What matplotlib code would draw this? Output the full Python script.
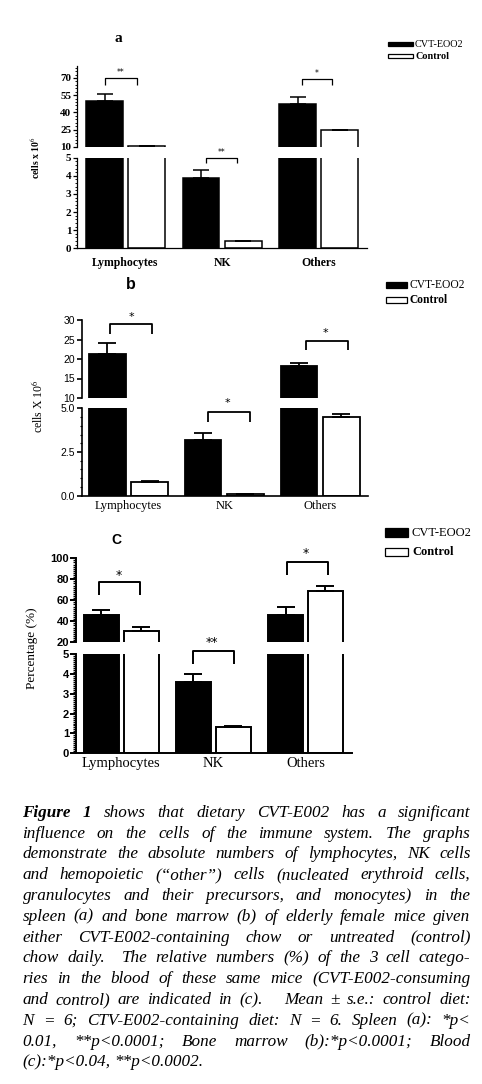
import re
import numpy as np
import matplotlib
matplotlib.use("Agg")
import matplotlib.pyplot as plt
from matplotlib.patches import Rectangle
from matplotlib.ticker import FixedLocator, AutoMinorLocator, MultipleLocator, NullLocator, FormatStrFormatter

# ---------------- data ----------------
categories = ["Lymphocytes", "NK", "Others"]
series_names = ["CVT-EOO2", "Control"]

# panel a: spleen (cells x 10^6)
a_cvt = [50.0, 3.9, 47.5]
a_cvt_err = [6.0, 0.4, 6.0]
a_ctl = [10.5, 0.4, 24.3]
a_ctl_err = [0.2, 0.02, 0.4]
a_sig = ["**", "**", "*"]

# panel b: bone marrow (cells x 10^6)
b_cvt = [21.2, 3.2, 18.1]
b_cvt_err = [3.0, 0.4, 0.8]
b_ctl = [0.8, 0.07, 4.5]
b_ctl_err = [0.03, 0.01, 0.2]
b_sig = ["*", "*", "*"]

# panel c: blood (percentage)
c_cvt = [46.0, 3.6, 46.0]
c_cvt_err = [5.0, 0.37, 8.0]
c_ctl = [31.0, 1.3, 69.0]
c_ctl_err = [3.8, 0.08, 5.0]
c_sig = ["*", "**", "*"]

a_upper_ticks = [10, 25, 40, 55, 70]
a_lower_ticks = [0, 1, 2, 3, 4, 5]
b_upper_ticks = [10, 15, 20, 25, 30]
b_lower_ticks = [0.0, 2.5, 5.0]
c_upper_ticks = [20, 40, 60, 80, 100]
c_lower_ticks = [0, 1, 2, 3, 4, 5]

caption_lines = [
    "Figure 1 shows that dietary CVT-E002 has a significant",
    "influence on the cells of the immune system. The graphs",
    "demonstrate the absolute numbers of lymphocytes, NK cells",
    "and hemopoietic (\u201cother\u201d) cells (nucleated erythroid cells,",
    "granulocytes and their precursors, and monocytes) in the",
    "spleen (a) and bone marrow (b) of elderly female mice given",
    "either CVT-E002-containing chow or untreated (control)",
    "chow daily.  The relative numbers (%) of the 3 cell catego-",
    "ries in the blood of these same mice (CVT-E002-consuming",
    "and control) are indicated in (c).   Mean \u00b1 s.e.: control diet:",
    "N = 6; CTV-E002-containing diet: N = 6. Spleen (a): *p<",
    "0.01,  **p<0.0001;  Bone  marrow  (b):*p<0.0001;  Blood",
    "(c):*p<0.04, **p<0.0002.",
]

# ---------------- figure ----------------
W, H = 482, 1084
plt.rcParams["mathtext.fontset"] = "stix"
fig = plt.figure(figsize=(W / 100, H / 100), dpi=100)
SERIF = "Liberation Serif"
SANS = ["Liberation Sans Narrow", "Liberation Sans"]


def ax_px(x0, y0, x1, y1):
    return fig.add_axes([x0 / W, 1 - y1 / H, (x1 - x0) / W, (y1 - y0) / H])


def draw_panel(cfg, cvt, cvt_err, ctl, ctl_err, sig, up_ticks, lo_ticks):
    x = np.arange(len(categories))
    off, width = cfg["off"], cfg["width"]
    up = ax_px(cfg["x0"], cfg["up"][0], cfg["x1"], cfg["up"][1])
    lo = ax_px(cfg["x0"], cfg["lo"][0], cfg["x1"], cfg["lo"][1])
    for ax, lim, ticks, minor in ((up, cfg["up_lim"], up_ticks, cfg["up_minor"]),
                                  (lo, cfg["lo_lim"], lo_ticks, cfg["lo_minor"])):
        ax.bar(x - off, cvt, width, color="black", edgecolor="black",
               linewidth=cfg["blw"], zorder=2)
        ax.bar(x + off, ctl, width, color="white", edgecolor="black",
               linewidth=cfg["blw"], zorder=2)
        ax.errorbar(x - off, cvt, yerr=[np.zeros(len(cvt)), cvt_err], fmt="none",
                    ecolor="black", elinewidth=cfg["elw"], capsize=cfg["cap"],
                    capthick=cfg["elw"], zorder=3)
        ax.errorbar(x + off, ctl, yerr=[np.zeros(len(ctl)), ctl_err], fmt="none",
                    ecolor="black", elinewidth=cfg["elw"], capsize=cfg["cap"],
                    capthick=cfg["elw"], zorder=3)
        ax.set_xlim(cfg["xlim"])
        ax.set_ylim(lim)
        ax.set_facecolor("none")
        for s in ("top", "right"):
            ax.spines[s].set_visible(False)
        ax.spines["left"].set_linewidth(cfg["slw"])
        ax.spines["bottom"].set_linewidth(cfg["slw"])
        ax.yaxis.set_major_locator(FixedLocator(ticks))
        if minor is None:
            ax.yaxis.set_minor_locator(NullLocator())
        else:
            ax.yaxis.set_minor_locator(minor)
        ax.tick_params(axis="y", which="major", direction="out", length=cfg["tl"],
                       width=cfg["slw"], pad=1)
        ax.tick_params(axis="y", which="minor", direction="out", length=cfg["tl"] * 0.5,
                       width=cfg["slw"] * 0.7)
    up.yaxis.set_major_formatter(cfg["upfmt"])
    lo.yaxis.set_major_formatter(cfg["lofmt"])
    for lab in up.get_yticklabels() + lo.get_yticklabels():
        lab.set_fontfamily(cfg["tfam"])
        lab.set_fontweight(cfg["tweight"])
        lab.set_fontsize(cfg["tsize"])
    up.spines["bottom"].set_visible(False)
    up.set_xticks([])
    lo.set_xticks(x)
    lo.set_xticklabels(categories, fontfamily=SERIF, fontweight=cfg["xweight"],
                       fontsize=cfg["xsize"])
    lo.tick_params(axis="x", length=0, pad=cfg["xpad"])

    # significance brackets
    for i, (axname, xa, xb, yb, yl, ys, xs) in enumerate(cfg["brackets"]):
        ax = up if axname == "up" else lo
        ax.plot([i + xa, i + xa, i + xb, i + xb], [yl, yb, yb, yl], color="black",
                lw=cfg["brlw"], clip_on=False, zorder=4, solid_capstyle="butt")
        ax.text(i + xs, ys, sig[i], ha="center", va="center", fontsize=cfg["ssize"],
                fontfamily="DejaVu Sans", clip_on=False)

    # titles, y-label, legend
    fig.text(cfg["title_xy"][0] / W, 1 - cfg["title_xy"][1] / H, cfg["title"],
             ha="center", va="center", fontsize=cfg["title_size"],
             fontweight="bold", fontfamily=cfg["title_fam"])
    fig.text(cfg["ylab_xy"][0] / W, 1 - cfg["ylab_xy"][1] / H, cfg["ylabel"],
             ha="center", va="center", rotation=90, fontsize=cfg["ylab_size"],
             fontweight=cfg["ylab_weight"], fontfamily=SERIF)
    lx0, lx1 = cfg["leg_x"]
    for (ly0, ly1), name, fc, wt in zip(cfg["leg_y"], series_names,
                                        ["black", "white"], cfg["leg_weights"]):
        fig.add_artist(Rectangle((lx0 / W, 1 - ly1 / H), (lx1 - lx0) / W,
                                 (ly1 - ly0) / H, transform=fig.transFigure,
                                 facecolor=fc, edgecolor="black", linewidth=0.9))
        fig.text(cfg["leg_tx"] / W, 1 - (ly0 + ly1) / 2 / H, name, ha="left",
                 va="center", fontsize=cfg["leg_size"], fontfamily=SERIF,
                 fontweight=wt)


cfg_a = dict(
    x0=77, x1=367, up=(66.5, 146.7), lo=(157.7, 248.3),
    up_lim=(10, 80), lo_lim=(0, 5), xlim=(-0.503, 2.502),
    off=0.218, width=0.383, blw=1.1, elw=1.1, cap=6.0, slw=0.9, tl=3.0,
    up_minor=AutoMinorLocator(5), lo_minor=AutoMinorLocator(5),
    tfam=SERIF, tweight="bold", tsize=8,
    upfmt=FormatStrFormatter("%d"), lofmt=FormatStrFormatter("%d"),
    xweight="bold", xsize=8.5, xpad=6,
    brackets=[("up", -0.212, 0.119, 70.2, 64.1, 75.0, -0.047),
              ("lo", -0.169, 0.155, 5.0, 4.69, 5.3, 0.0),
              ("up", -0.171, 0.14, 68.8, 63.8, 73.5, -0.02)],
    brlw=0.9, ssize=5.5,
    title="a", title_xy=(118.5, 38), title_size=11, title_fam=SERIF,
    ylabel="cells x 10$^6$", ylab_xy=(35, 158), ylab_size=7, ylab_weight="bold",
    leg_x=(388, 413), leg_y=[(42.3, 46.2), (54.3, 58.2)], leg_tx=415,
    leg_size=7.3, leg_weights=["normal", "bold"],
)

cfg_b = dict(
    x0=81.5, x1=368, up=(320, 398), lo=(408.3, 495.7),
    up_lim=(10, 30), lo_lim=(0, 5), xlim=(-0.489, 2.498),
    off=0.22, width=0.38, blw=1.3, elw=1.3, cap=6.5, slw=1.2, tl=3.5,
    up_minor=None, lo_minor=MultipleLocator(0.5),
    tfam=["Liberation Sans"], tweight="normal", tsize=7.5,
    upfmt=FormatStrFormatter("%d"), lofmt=FormatStrFormatter("%.1f"),
    xweight="normal", xsize=9, xpad=3,
    brackets=[("up", -0.192, 0.249, 28.9, 26.4, 30.7, 0.027),
              ("lo", -0.174, 0.267, 4.77, 4.23, 5.3, 0.03),
              ("up", -0.148, 0.287, 24.7, 22.3, 26.7, 0.05)],
    brlw=1.3, ssize=8,
    title="b", title_xy=(131, 285), title_size=11.5, title_fam="Liberation Sans",
    ylabel="cells X 10$^6$", ylab_xy=(38, 406), ylab_size=8.5, ylab_weight="normal",
    leg_x=(386, 407), leg_y=[(282.3, 288.3), (296.7, 302.7)], leg_tx=410,
    leg_size=8.3, leg_weights=["normal", "bold"],
)

cfg_c = dict(
    x0=76, x1=352, up=(558.3, 642.3), lo=(654, 753.3),
    up_lim=(20, 100), lo_lim=(0, 5), xlim=(-0.492, 2.505),
    off=0.217, width=0.38, blw=1.4, elw=1.4, cap=6.5, slw=1.4, tl=4.0,
    up_minor=AutoMinorLocator(10), lo_minor=AutoMinorLocator(10),
    tfam=SANS, tweight="bold", tsize=8,
    upfmt=FormatStrFormatter("%d"), lofmt=FormatStrFormatter("%d"),
    xweight="normal", xsize=10.5, xpad=3,
    brackets=[("up", -0.239, 0.203, 77.7, 65.0, 84.0, -0.03),
              ("lo", -0.226, 0.226, 5.15, 4.5, 5.6, -0.02),
              ("up", -0.204, 0.241, 96.8, 84.1, 105.0, 0.0)],
    brlw=1.4, ssize=9,
    title="C", title_xy=(116.7, 540.5), title_size=10, title_fam="Liberation Sans",
    ylabel="Percentage (%)", ylab_xy=(32, 648), ylab_size=9.5, ylab_weight="normal",
    leg_x=(385, 408), leg_y=[(527.7, 537.3), (547.7, 555.7)], leg_tx=412,
    leg_size=9, leg_weights=["normal", "bold"],
)

draw_panel(cfg_a, a_cvt, a_cvt_err, a_ctl, a_ctl_err, a_sig, a_upper_ticks, a_lower_ticks)
draw_panel(cfg_b, b_cvt, b_cvt_err, b_ctl, b_ctl_err, b_sig, b_upper_ticks, b_lower_ticks)
draw_panel(cfg_c, c_cvt, c_cvt_err, c_ctl, c_ctl_err, c_sig, c_upper_ticks, c_lower_ticks)

# ---------------- justified caption ----------------
renderer = fig.canvas.get_renderer()
cap_left, cap_right = 22.5, 470.5
base0, lstep = 816.7, 20.8
cap_size = 12.3
probe = fig.text(0, 0, "a a", fontsize=cap_size, fontfamily=SERIF, fontstyle="italic")
probe2 = fig.text(0, 0, "aa", fontsize=cap_size, fontfamily=SERIF, fontstyle="italic")
space_w = probe.get_window_extent(renderer).width - probe2.get_window_extent(renderer).width
probe.remove()
probe2.remove()
for i, line in enumerate(caption_lines):
    parts = re.split(r"( +)", line)
    words = parts[0::2]
    gaps = [len(g) for g in parts[1::2]]
    texts, widths = [], []
    for j, w in enumerate(words):
        bold = (i == 0 and j < 2)
        t = fig.text(0, 0, w, fontsize=cap_size, fontfamily=SERIF, fontstyle="italic",
                     fontweight="bold" if bold else "normal", va="baseline", ha="left")
        texts.append(t)
        widths.append(t.get_window_extent(renderer).width)
    if i < len(caption_lines) - 1 and gaps:
        unit = (cap_right - cap_left - sum(widths)) / sum(gaps)
    else:
        unit = space_w
    xpos = cap_left
    yb = base0 + i * lstep
    for j, t in enumerate(texts):
        t.set_position((xpos / W, 1 - yb / H))
        xpos += widths[j] + (gaps[j] * unit if j < len(gaps) else 0)

fig.savefig("out.png", dpi=100, facecolor="white")
